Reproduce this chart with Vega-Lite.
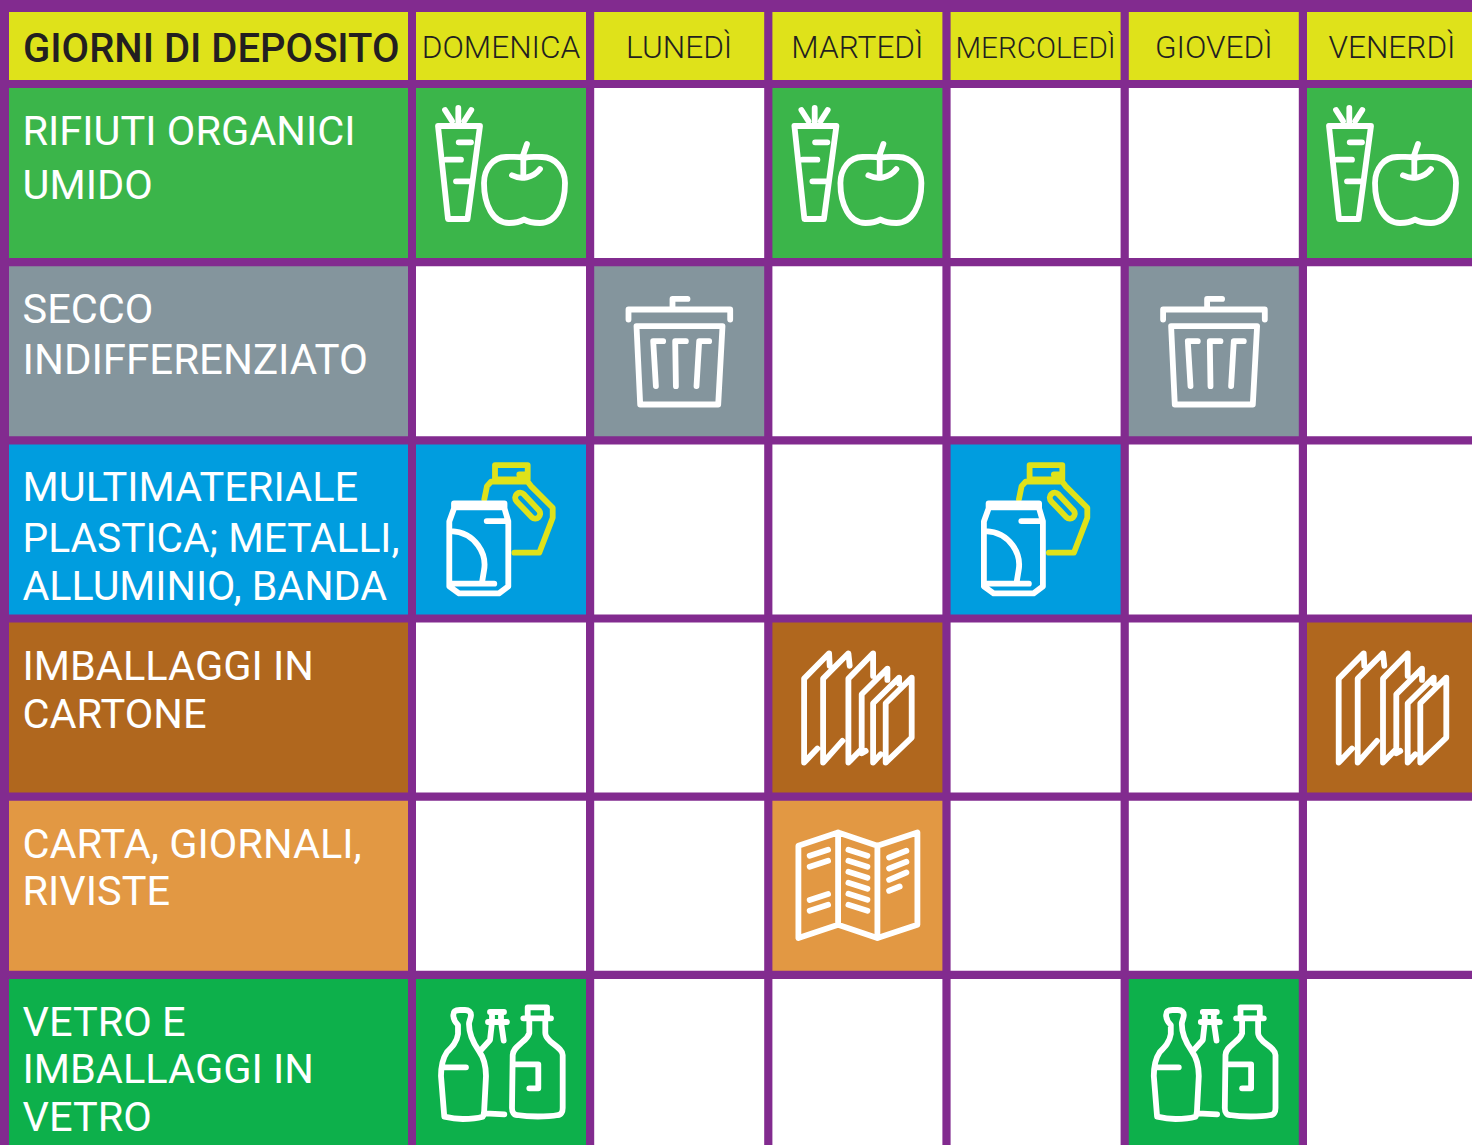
{"$schema":"https://vega.github.io/schema/vega-lite/v6.json","width":1472,"height":1145,"padding":0,"autosize":{"type":"none"},"background":"#822b8f","config":{"view":{"stroke":null},"font":"Roboto"},
"datasets":{
"giorni":[{"giorno":"DOMENICA"},{"giorno":"LUNEDÌ"},{"giorno":"MARTEDÌ"},{"giorno":"MERCOLEDÌ"},{"giorno":"GIOVEDÌ"},{"giorno":"VENERDÌ"}],
"titolo":[{"testo":"GIORNI DI DEPOSITO"}],
"categorie":[{"riga":"organico"},{"riga":"secco"},{"riga":"multi"},{"riga":"cartone"},{"riga":"carta"},{"riga":"vetro"}],
"testi":[
{"riga":"organico","linea":1,"testo":"RIFIUTI ORGANICI"},{"riga":"organico","linea":2,"testo":"UMIDO"},
{"riga":"secco","linea":1,"testo":"SECCO"},{"riga":"secco","linea":2,"testo":"INDIFFERENZIATO"},
{"riga":"multi","linea":1,"testo":"MULTIMATERIALE"},{"riga":"multi","linea":2,"testo":"PLASTICA; METALLI,"},{"riga":"multi","linea":3,"testo":"ALLUMINIO, BANDA"},
{"riga":"cartone","linea":1,"testo":"IMBALLAGGI IN"},{"riga":"cartone","linea":2,"testo":"CARTONE"},
{"riga":"carta","linea":1,"testo":"CARTA, GIORNALI,"},{"riga":"carta","linea":2,"testo":"RIVISTE"},
{"riga":"vetro","linea":1,"testo":"VETRO E"},{"riga":"vetro","linea":2,"testo":"IMBALLAGGI IN"},{"riga":"vetro","linea":3,"testo":"VETRO"}],
"celle":[
{"riga":"organico","giorno":"DOMENICA","tipo":"organico"},{"riga":"organico","giorno":"LUNEDÌ","tipo":"nessuno"},{"riga":"organico","giorno":"MARTEDÌ","tipo":"organico"},{"riga":"organico","giorno":"MERCOLEDÌ","tipo":"nessuno"},{"riga":"organico","giorno":"GIOVEDÌ","tipo":"nessuno"},{"riga":"organico","giorno":"VENERDÌ","tipo":"organico"},
{"riga":"secco","giorno":"DOMENICA","tipo":"nessuno"},{"riga":"secco","giorno":"LUNEDÌ","tipo":"secco"},{"riga":"secco","giorno":"MARTEDÌ","tipo":"nessuno"},{"riga":"secco","giorno":"MERCOLEDÌ","tipo":"nessuno"},{"riga":"secco","giorno":"GIOVEDÌ","tipo":"secco"},{"riga":"secco","giorno":"VENERDÌ","tipo":"nessuno"},
{"riga":"multi","giorno":"DOMENICA","tipo":"multi"},{"riga":"multi","giorno":"LUNEDÌ","tipo":"nessuno"},{"riga":"multi","giorno":"MARTEDÌ","tipo":"nessuno"},{"riga":"multi","giorno":"MERCOLEDÌ","tipo":"multi"},{"riga":"multi","giorno":"GIOVEDÌ","tipo":"nessuno"},{"riga":"multi","giorno":"VENERDÌ","tipo":"nessuno"},
{"riga":"cartone","giorno":"DOMENICA","tipo":"nessuno"},{"riga":"cartone","giorno":"LUNEDÌ","tipo":"nessuno"},{"riga":"cartone","giorno":"MARTEDÌ","tipo":"cartone"},{"riga":"cartone","giorno":"MERCOLEDÌ","tipo":"nessuno"},{"riga":"cartone","giorno":"GIOVEDÌ","tipo":"nessuno"},{"riga":"cartone","giorno":"VENERDÌ","tipo":"cartone"},
{"riga":"carta","giorno":"DOMENICA","tipo":"nessuno"},{"riga":"carta","giorno":"LUNEDÌ","tipo":"nessuno"},{"riga":"carta","giorno":"MARTEDÌ","tipo":"carta"},{"riga":"carta","giorno":"MERCOLEDÌ","tipo":"nessuno"},{"riga":"carta","giorno":"GIOVEDÌ","tipo":"nessuno"},{"riga":"carta","giorno":"VENERDÌ","tipo":"nessuno"},
{"riga":"vetro","giorno":"DOMENICA","tipo":"vetro"},{"riga":"vetro","giorno":"LUNEDÌ","tipo":"nessuno"},{"riga":"vetro","giorno":"MARTEDÌ","tipo":"nessuno"},{"riga":"vetro","giorno":"MERCOLEDÌ","tipo":"nessuno"},{"riga":"vetro","giorno":"GIOVEDÌ","tipo":"vetro"},{"riga":"vetro","giorno":"VENERDÌ","tipo":"nessuno"}]
},
"resolve":{"scale":{"x":"independent","y":"independent","color":"independent"}},
"layer":[
{"data":{"name":"titolo"},"mark":{"type":"rect","fill":"#dfe21a"},"encoding":{"x":{"field":"testo","type":"nominal","axis":null,"scale":{"type":"band","range":[9,408]}},"y":{"field":"testo","type":"nominal","axis":null,"scale":{"type":"band","range":[12,80]}}}},
{"data":{"name":"titolo"},"mark":{"type":"text","align":"left","baseline":"alphabetic","dx":14,"dy":15.5,"fontSize":40,"fontWeight":500,"fill":"#231f20"},"encoding":{"text":{"field":"testo"},"x":{"field":"testo","type":"nominal","axis":null,"bandPosition":0,"scale":{"type":"band","range":[9,408]}},"y":{"field":"testo","type":"nominal","axis":null,"scale":{"type":"band","range":[12,80]}}}},
{"data":{"name":"giorni"},"mark":{"type":"rect","fill":"#dfe21a","clip":true},"encoding":{"x":{"field":"giorno","type":"nominal","sort":null,"axis":null,"scale":{"type":"band","domain":["DOMENICA","LUNEDÌ","MARTEDÌ","MERCOLEDÌ","GIOVEDÌ","VENERDÌ"],"range":[411.9,1481.1],"paddingInner":0.046,"paddingOuter":0.023}},"y":{"datum":"h","type":"nominal","axis":null,"scale":{"type":"band","range":[12,80]}}}},
{"data":{"name":"giorni"},"transform":[{"filter":"datum.giorno!='MERCOLEDÌ'"}],"mark":{"type":"text","baseline":"alphabetic","dy":12,"fontSize":31.6,"fontWeight":300,"fill":"#231f20"},"encoding":{"text":{"field":"giorno"},"x":{"field":"giorno","type":"nominal","sort":null,"axis":null,"scale":{"type":"band","domain":["DOMENICA","LUNEDÌ","MARTEDÌ","MERCOLEDÌ","GIOVEDÌ","VENERDÌ"],"range":[411.9,1481.1],"paddingInner":0.046,"paddingOuter":0.023}},"y":{"datum":"h","type":"nominal","axis":null,"scale":{"type":"band","range":[12,80]}}}},
{"data":{"name":"giorni"},"transform":[{"filter":"datum.giorno=='MERCOLEDÌ'"}],"mark":{"type":"text","baseline":"alphabetic","dy":12,"fontSize":29.6,"fontWeight":300,"fill":"#231f20"},"encoding":{"text":{"field":"giorno"},"x":{"field":"giorno","type":"nominal","sort":null,"axis":null,"scale":{"type":"band","domain":["DOMENICA","LUNEDÌ","MARTEDÌ","MERCOLEDÌ","GIOVEDÌ","VENERDÌ"],"range":[411.9,1481.1],"paddingInner":0.046,"paddingOuter":0.023}},"y":{"datum":"h","type":"nominal","axis":null,"scale":{"type":"band","range":[12,80]}}}},
{"data":{"name":"categorie"},"mark":{"type":"rect","clip":true},"encoding":{
"x":{"datum":"c","type":"nominal","axis":null,"scale":{"type":"band","range":[9,408]}},
"y":{"field":"riga","type":"nominal","sort":null,"axis":null,"scale":{"type":"band","range":[83.9,1153.1],"paddingInner":0.046,"paddingOuter":0.023}},
"color":{"field":"riga","type":"nominal","legend":null,"scale":{"domain":["organico","secco","multi","cartone","carta","vetro"],"range":["#3bb54a","#84959d","#009ddf","#b0671e","#e29843","#0db04b"]}}}},
{"data":{"name":"celle"},"mark":{"type":"rect","clip":true},"encoding":{
"x":{"field":"giorno","type":"nominal","sort":null,"axis":null,"scale":{"type":"band","domain":["DOMENICA","LUNEDÌ","MARTEDÌ","MERCOLEDÌ","GIOVEDÌ","VENERDÌ"],"range":[411.9,1481.1],"paddingInner":0.046,"paddingOuter":0.023}},
"y":{"field":"riga","type":"nominal","sort":null,"axis":null,"scale":{"type":"band","domain":["organico","secco","multi","cartone","carta","vetro"],"range":[83.9,1153.1],"paddingInner":0.046,"paddingOuter":0.023}},
"color":{"field":"tipo","type":"nominal","legend":null,"scale":{"domain":["organico","secco","multi","cartone","carta","vetro","nessuno"],"range":["#3bb54a","#84959d","#009ddf","#b0671e","#e29843","#0db04b","#ffffff"]}}}},

{"data":{"name":"testi"},"transform":[{"filter":"datum.linea==1"}],"mark":{"type":"text","align":"left","baseline":"alphabetic","dx":13.5,"dy":-28,"fontSize":41.5,"fill":"#ffffff"},"encoding":{"text":{"field":"testo"},"x":{"datum":"c","type":"nominal","axis":null,"bandPosition":0,"scale":{"type":"band","range":[9,408]}},"y":{"field":"riga","type":"nominal","axis":null,"scale":{"type":"band","domain":["organico","secco","multi","cartone","carta","vetro"],"range":[83.9,1153.1],"paddingInner":0.046,"paddingOuter":0.023}}}},
{"data":{"name":"testi"},"transform":[{"filter":"datum.linea==2 && datum.riga=='organico'"}],"mark":{"type":"text","align":"left","baseline":"alphabetic","dx":13.5,"dy":26,"fontSize":41.5,"fill":"#ffffff"},"encoding":{"text":{"field":"testo"},"x":{"datum":"c","type":"nominal","axis":null,"bandPosition":0,"scale":{"type":"band","range":[9,408]}},"y":{"field":"riga","type":"nominal","axis":null,"scale":{"type":"band","domain":["organico","secco","multi","cartone","carta","vetro"],"range":[83.9,1153.1],"paddingInner":0.046,"paddingOuter":0.023}}}},
{"data":{"name":"testi"},"transform":[{"filter":"datum.linea==2 && datum.riga=='secco'"}],"mark":{"type":"text","align":"left","baseline":"alphabetic","dx":13.5,"dy":23,"fontSize":42,"fill":"#ffffff"},"encoding":{"text":{"field":"testo"},"x":{"datum":"c","type":"nominal","axis":null,"bandPosition":0,"scale":{"type":"band","range":[9,408]}},"y":{"field":"riga","type":"nominal","axis":null,"scale":{"type":"band","domain":["organico","secco","multi","cartone","carta","vetro"],"range":[83.9,1153.1],"paddingInner":0.046,"paddingOuter":0.023}}}},
{"data":{"name":"testi"},"transform":[{"filter":"datum.linea==2 && datum.riga=='multi'"}],"mark":{"type":"text","align":"left","baseline":"alphabetic","dx":13.5,"dy":23,"fontSize":40.7,"fill":"#ffffff"},"encoding":{"text":{"field":"testo"},"x":{"datum":"c","type":"nominal","axis":null,"bandPosition":0,"scale":{"type":"band","range":[9,408]}},"y":{"field":"riga","type":"nominal","axis":null,"scale":{"type":"band","domain":["organico","secco","multi","cartone","carta","vetro"],"range":[83.9,1153.1],"paddingInner":0.046,"paddingOuter":0.023}}}},
{"data":{"name":"testi"},"transform":[{"filter":"datum.linea==2 && datum.riga=='cartone'"}],"mark":{"type":"text","align":"left","baseline":"alphabetic","dx":13.5,"dy":20,"fontSize":41.5,"fill":"#ffffff"},"encoding":{"text":{"field":"testo"},"x":{"datum":"c","type":"nominal","axis":null,"bandPosition":0,"scale":{"type":"band","range":[9,408]}},"y":{"field":"riga","type":"nominal","axis":null,"scale":{"type":"band","domain":["organico","secco","multi","cartone","carta","vetro"],"range":[83.9,1153.1],"paddingInner":0.046,"paddingOuter":0.023}}}},
{"data":{"name":"testi"},"transform":[{"filter":"datum.linea==2 && (datum.riga=='carta' || datum.riga=='vetro')"}],"mark":{"type":"text","align":"left","baseline":"alphabetic","dx":13.5,"dy":19,"fontSize":41.5,"fill":"#ffffff"},"encoding":{"text":{"field":"testo"},"x":{"datum":"c","type":"nominal","axis":null,"bandPosition":0,"scale":{"type":"band","range":[9,408]}},"y":{"field":"riga","type":"nominal","axis":null,"scale":{"type":"band","domain":["organico","secco","multi","cartone","carta","vetro"],"range":[83.9,1153.1],"paddingInner":0.046,"paddingOuter":0.023}}}},
{"data":{"name":"testi"},"transform":[{"filter":"datum.linea==3 && datum.riga=='multi'"}],"mark":{"type":"text","align":"left","baseline":"alphabetic","dx":13.5,"dy":71,"fontSize":41.2,"fill":"#ffffff"},"encoding":{"text":{"field":"testo"},"x":{"datum":"c","type":"nominal","axis":null,"bandPosition":0,"scale":{"type":"band","range":[9,408]}},"y":{"field":"riga","type":"nominal","axis":null,"scale":{"type":"band","domain":["organico","secco","multi","cartone","carta","vetro"],"range":[83.9,1153.1],"paddingInner":0.046,"paddingOuter":0.023}}}},
{"data":{"name":"testi"},"transform":[{"filter":"datum.linea==3 && datum.riga=='vetro'"}],"mark":{"type":"text","align":"left","baseline":"alphabetic","dx":13.5,"dy":67,"fontSize":41.5,"fill":"#ffffff"},"encoding":{"text":{"field":"testo"},"x":{"datum":"c","type":"nominal","axis":null,"bandPosition":0,"scale":{"type":"band","range":[9,408]}},"y":{"field":"riga","type":"nominal","axis":null,"scale":{"type":"band","domain":["organico","secco","multi","cartone","carta","vetro"],"range":[83.9,1153.1],"paddingInner":0.046,"paddingOuter":0.023}}}},

{"data":{"name":"celle"},"transform":[{"filter":"datum.tipo=='organico'"}],"mark":{"type":"point","size":4,"filled":false,"opacity":1,"stroke":"#ffffff","strokeWidth":5.8,"strokeCap":"round","strokeJoin":"round","shape":"M-63 -47L-21 -47L-33.5 46L-53 46ZM-42.7 -65L-42.7 -50M-56 -63L-49 -52M-29.7 -63L-36.7 -52M-42.3 -30.7L-30 -30.7M-55 -13.3L-40 -13.3M-45 8.3L-31.7 8.3M26 -29L22.3 -18.3L22.3 3.3M11 2.3C20 7 32 5 39 -4M23 -15C17 -17 11 -16 5 -16C-8 -16 -17 -4 -17 10C-17 32 -8 50 8 50C14 50 19 49 23 46.5C27 49 33 50 39 50C55 50 64 32 64 10C64 -4 54 -16 41 -16C35 -16 29 -17 23 -15Z"},"encoding":{"x":{"field":"giorno","type":"nominal","sort":null,"axis":null,"scale":{"type":"band","domain":["DOMENICA","LUNEDÌ","MARTEDÌ","MERCOLEDÌ","GIOVEDÌ","VENERDÌ"],"range":[411.9,1481.1],"paddingInner":0.046,"paddingOuter":0.023}},"y":{"field":"riga","type":"nominal","axis":null,"scale":{"type":"band","domain":["organico","secco","multi","cartone","carta","vetro"],"range":[83.9,1153.1],"paddingInner":0.046,"paddingOuter":0.023}}}},
{"data":{"name":"celle"},"transform":[{"filter":"datum.tipo=='secco'"}],"mark":{"type":"point","size":4,"filled":false,"opacity":1,"stroke":"#ffffff","strokeWidth":5.8,"strokeCap":"round","strokeJoin":"round","shape":"M-50.7 -31.7L-50.7 -41.7L51 -41.7L51 -31.7M-6.7 -43.3L-6.7 -52.3L8.3 -52.3M-42.7 -25L43.3 -25L39 53.3L-39 53.3ZM-23.3 35L-26 -10L-16 -10M-3.3 35L-4 -10L6.7 -10M17.3 35L20 -10L30 -10"},"encoding":{"x":{"field":"giorno","type":"nominal","sort":null,"axis":null,"scale":{"type":"band","domain":["DOMENICA","LUNEDÌ","MARTEDÌ","MERCOLEDÌ","GIOVEDÌ","VENERDÌ"],"range":[411.9,1481.1],"paddingInner":0.046,"paddingOuter":0.023}},"y":{"field":"riga","type":"nominal","axis":null,"scale":{"type":"band","domain":["organico","secco","multi","cartone","carta","vetro"],"range":[83.9,1153.1],"paddingInner":0.046,"paddingOuter":0.023}}}},
{"data":{"name":"celle"},"transform":[{"filter":"datum.tipo=='multi'"}],"mark":{"type":"point","size":4,"filled":false,"opacity":1,"stroke":"#dfe21a","strokeWidth":5.8,"strokeCap":"round","strokeJoin":"round","shape":"M-6 -64.3L26.7 -64.3L26.7 -50L-6 -50ZM18.3 -55L26.7 -55M-16.7 -30L-14 -43.3L-10 -47.7L26.7 -47.7L30 -43.3L51.7 -21.7L51.7 -11.7L38.3 23.3L13.3 23.3M15.7 -28L31 -12C35 -8 42 -14 38 -19L23 -35C18 -40 11 -33 15.7 -28Z"},"encoding":{"x":{"field":"giorno","type":"nominal","sort":null,"axis":null,"scale":{"type":"band","domain":["DOMENICA","LUNEDÌ","MARTEDÌ","MERCOLEDÌ","GIOVEDÌ","VENERDÌ"],"range":[411.9,1481.1],"paddingInner":0.046,"paddingOuter":0.023}},"y":{"field":"riga","type":"nominal","axis":null,"scale":{"type":"band","domain":["organico","secco","multi","cartone","carta","vetro"],"range":[83.9,1153.1],"paddingInner":0.046,"paddingOuter":0.023}}}},
{"data":{"name":"celle"},"transform":[{"filter":"datum.tipo=='multi'"}],"mark":{"type":"point","size":4,"filled":false,"opacity":1,"stroke":"#ffffff","strokeWidth":5.8,"strokeCap":"round","strokeJoin":"round","shape":"M-47 -26L3.5 -26L3.5 -21L7.3 -8L7.3 57L-2 64L-42 64L-51.7 57L-51.7 -8L-47 -21ZM-47 -22L3.5 -22M-14.3 -8.3L7.3 -8.3M-50 1.7C-25 3 -14 25 -17 41L-19 53M-50 54.3L-6.7 54.3"},"encoding":{"x":{"field":"giorno","type":"nominal","sort":null,"axis":null,"scale":{"type":"band","domain":["DOMENICA","LUNEDÌ","MARTEDÌ","MERCOLEDÌ","GIOVEDÌ","VENERDÌ"],"range":[411.9,1481.1],"paddingInner":0.046,"paddingOuter":0.023}},"y":{"field":"riga","type":"nominal","axis":null,"scale":{"type":"band","domain":["organico","secco","multi","cartone","carta","vetro"],"range":[83.9,1153.1],"paddingInner":0.046,"paddingOuter":0.023}}}},
{"data":{"name":"celle"},"transform":[{"filter":"datum.tipo=='cartone'"}],"mark":{"type":"point","size":4,"filled":false,"opacity":1,"stroke":"#ffffff","strokeWidth":5.8,"strokeCap":"round","strokeJoin":"round","shape":"M-27.7 -41.7L-28.3 -54.3L-53.3 -29L-53.3 55L-40 41M-7.7 -41.7L-9 -54.3L-34.3 -29L-34.3 55L-15 33.3M15.7 -31.7L15.7 -54.3L-9 -29L-9 55L2.3 43.3M30 -27.7L30 -39L4.3 -13.3L4.3 45.7L8.3 43.3M41.7 -24L41.7 -30L15.7 -4.3L15.7 55L23.3 46.7M54.3 -30L28.3 -4.3L28.3 55L54.3 30Z"},"encoding":{"x":{"field":"giorno","type":"nominal","sort":null,"axis":null,"scale":{"type":"band","domain":["DOMENICA","LUNEDÌ","MARTEDÌ","MERCOLEDÌ","GIOVEDÌ","VENERDÌ"],"range":[411.9,1481.1],"paddingInner":0.046,"paddingOuter":0.023}},"y":{"field":"riga","type":"nominal","axis":null,"scale":{"type":"band","domain":["organico","secco","multi","cartone","carta","vetro"],"range":[83.9,1153.1],"paddingInner":0.046,"paddingOuter":0.023}}}},
{"data":{"name":"celle"},"transform":[{"filter":"datum.tipo=='carta'"}],"mark":{"type":"point","size":4,"filled":false,"opacity":1,"stroke":"#ffffff","strokeWidth":5.8,"strokeCap":"round","strokeJoin":"round","shape":"M-59 -40L-19.3 -53.3L20 -40L60 -53.3L60 39L20 52.3L-19.3 39L-59 52.3ZM-19.3 -53.3L-19.3 39M20 -40L20 52.3M-47.7 -30L-29.3 -36M-47.7 -19L-29.3 -25M-47.7 14.3L-29.3 8.3M-47.7 25L-29.3 19M-9 -36L10 -30M-9 -25L10 -19M-9 -14L10 -8M-9 -3L10 3M-9 8L10 14M-9 19L10 25M31.7 -28.3L49 -35M31.7 -17.3L49 -24M31.7 -6L49 -13.3M31.7 5L42.3 0.7"},"encoding":{"x":{"field":"giorno","type":"nominal","sort":null,"axis":null,"scale":{"type":"band","domain":["DOMENICA","LUNEDÌ","MARTEDÌ","MERCOLEDÌ","GIOVEDÌ","VENERDÌ"],"range":[411.9,1481.1],"paddingInner":0.046,"paddingOuter":0.023}},"y":{"field":"riga","type":"nominal","axis":null,"scale":{"type":"band","domain":["organico","secco","multi","cartone","carta","vetro"],"range":[83.9,1153.1],"paddingInner":0.046,"paddingOuter":0.023}}}},
{"data":{"name":"celle"},"transform":[{"filter":"datum.tipo=='vetro'"}],"mark":{"type":"point","size":4,"filled":false,"opacity":1,"stroke":"#ffffff","strokeWidth":5.8,"strokeCap":"round","strokeJoin":"round","shape":"M-43 -39C-46 -42 -47.7 -44 -47.7 -49C-47.7 -53 -45 -54 -41 -54L-36 -54C-32 -54 -30 -52 -30 -49C-30 -46 -32 -43 -32 -40C-32 -30 -27 -20 -22 -13C-17 -6 -15 2 -15 12L-16.7 44C-16.7 48 -17.5 52 -18.3 52.7C-24 54.5 -32 55 -38.3 55C-45 55 -51 54 -56.7 52.7L-60 12C-60 2 -58 -6 -54 -12C-49 -17 -44 -22 -43 -30ZM-56.7 3.3L-35 3.3M-15.7 49.3L3.3 50.3M-11 -52L3 -52M-13 -42L6 -42M-9 -52L-9 -42L-11 -24L-20 -14M0 -52L0 -42L2.7 -23.3M26.7 -45.7L26.7 -56.7L46 -56.7L46 -45.7M22.3 -45.7L50 -45.7M28.3 -45.7L28.3 -30.7C27 -27 24 -24 21.7 -22.3C17 -18 12 -15 11.7 -9L11 44C11 48 13 51 16 51C28 53 46 53 57 51C60 51 61.7 48 61.7 44L61.7 -9C61.7 -14 55 -18 50 -22C47 -25 44.3 -27 44.3 -31L44.3 -45.7M13.3 0.3L37.3 0.3L37.3 24.3L28.3 24.3"},"encoding":{"x":{"field":"giorno","type":"nominal","sort":null,"axis":null,"scale":{"type":"band","domain":["DOMENICA","LUNEDÌ","MARTEDÌ","MERCOLEDÌ","GIOVEDÌ","VENERDÌ"],"range":[411.9,1481.1],"paddingInner":0.046,"paddingOuter":0.023}},"y":{"field":"riga","type":"nominal","axis":null,"scale":{"type":"band","domain":["organico","secco","multi","cartone","carta","vetro"],"range":[83.9,1153.1],"paddingInner":0.046,"paddingOuter":0.023}}}}
]}
